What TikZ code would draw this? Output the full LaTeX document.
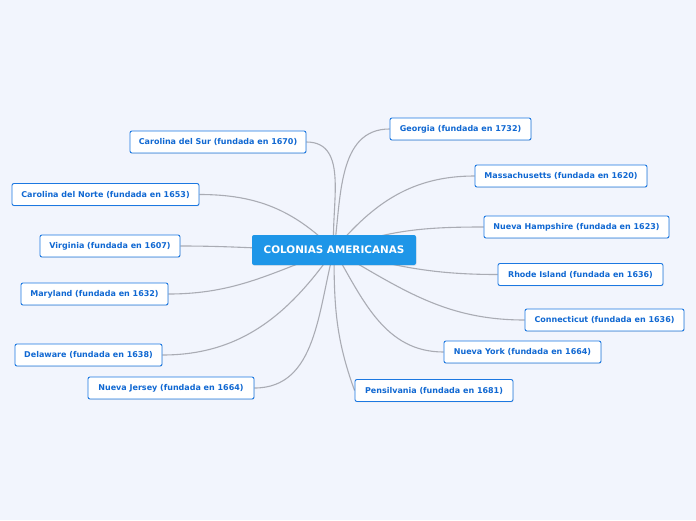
\documentclass[tikz,border=0pt]{standalone}
\usepackage{fontspec}
\setmainfont{DejaVu Sans}
\usetikzlibrary{shadows}
\pgfdeclarelayer{bglayer}
\pgfdeclarelayer{edges}
\pgfsetlayers{bglayer,edges,main}
\definecolor{bgc}{RGB}{242,245,253}
\definecolor{topblue}{RGB}{30,150,232}
\definecolor{txtblue}{RGB}{16,104,210}
\definecolor{brdblue}{RGB}{28,120,225}
\definecolor{edgegray}{RGB}{170,172,180}
\tikzset{
  x=1pt, y=-1pt,
  central/.style={fill=topblue, rounded corners=2pt, text=white, font=\fontsize{10.4}{12}\selectfont\bfseries, minimum width=164pt, minimum height=30pt, inner sep=0pt, drop shadow={shadow xshift=0.5pt, shadow yshift=-0.8pt, opacity=0.15}},
  colony/.style={draw=brdblue, line width=0.9pt, fill=white, rounded corners=2pt, text=txtblue, font=\fontsize{8}{9}\selectfont\bfseries, minimum height=22pt, inner sep=0pt, drop shadow={shadow xshift=0.5pt, shadow yshift=-0.8pt, opacity=0.15}},
  link/.style={draw=edgegray, line width=1.1pt}
}
\begin{document}
\begin{tikzpicture}
\begin{pgfonlayer}{bglayer}
\fill[bgc] (0,0) rectangle (696,520);
\end{pgfonlayer}
\useasboundingbox (0,0) rectangle (696,520);
\node[central] (c) at (334,250) {COLONIAS AMERICANAS};
% right
\node[colony, minimum width=141pt] (ga) at (460.5,129) {Georgia (fundada en 1732)};
\node[colony, minimum width=172pt] (ma) at (561,176) {Massachusetts (fundada en 1620)};
\node[colony, minimum width=185pt] (nh) at (576.5,227) {Nueva Hampshire (fundada en 1623)};
\node[colony, minimum width=165pt] (ri) at (580.5,274.5) {Rhode Island (fundada en 1636)};
\node[colony, minimum width=159pt] (ct) at (604.5,320) {Connecticut (fundada en 1636)};
\node[colony, minimum width=157pt] (ny) at (522.5,352) {Nueva York (fundada en 1664)};
\node[colony, minimum width=158pt] (pa) at (434,390.5) {Pensilvania (fundada en 1681)};
% left
\node[colony, minimum width=176pt] (cs) at (218,142) {Carolina del Sur (fundada en 1670)};
\node[colony, minimum width=187pt] (cn) at (105.5,194.5) {Carolina del Norte (fundada en 1653)};
\node[colony, minimum width=140pt] (va) at (110,246) {Virginia (fundada en 1607)};
\node[colony, minimum width=147pt] (md) at (94.5,294) {Maryland (fundada en 1632)};
\node[colony, minimum width=147pt] (de) at (88.5,355) {Delaware (fundada en 1638)};
\node[colony, minimum width=166pt] (nj) at (171,388) {Nueva Jersey (fundada en 1664)};
% links
\begin{pgfonlayer}{edges}
\draw[link] (c.center) to[out=82, in=180] (ga.west);
\draw[link] (c.center) to[out=50, in=180] (ma.west);
\draw[link] (c.center) to[out=20, in=180] (nh.west);
\draw[link] (c.center) to[out=-15, in=180] (ri.west);
\draw[link] (c.center) to[out=-30, in=180] (ct.west);
\draw[link] (c.center) to[out=-60, in=180] (ny.west);
\draw[link] (c.center) to[out=-90, in=110] (pa.west);
\draw[link] (c.center) to[out=95, in=0] (cs.east);
\draw[link] (c.center) to[out=135, in=0] (cn.east);
\draw[link] (c.center) to[out=180, in=0] (va.east);
\draw[link] (c.center) to[out=200, in=0] (md.east);
\draw[link] (c.center) to[out=235, in=0] (de.east);
\draw[link] (c.center) to[out=255, in=0] (nj.east);
\end{pgfonlayer}
\end{tikzpicture}
\end{document}
